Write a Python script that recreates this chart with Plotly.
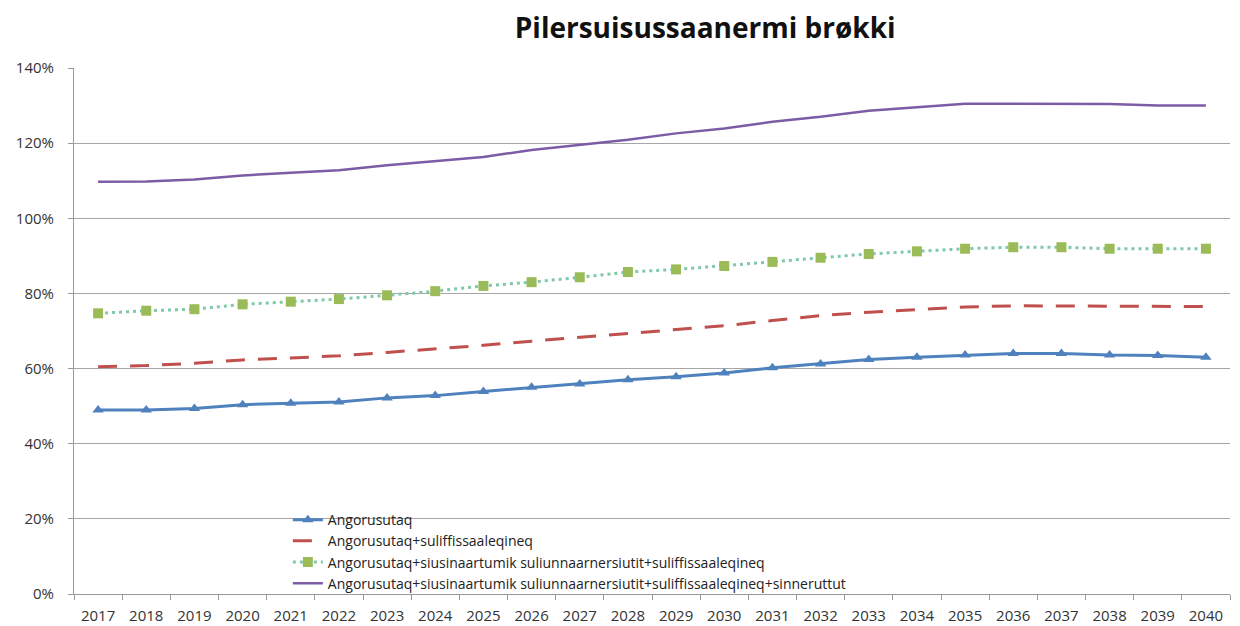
import plotly.graph_objects as go

years = [str(y) for y in range(2017, 2041)]

angorusutaq = [49.0, 49.0, 49.4, 50.4, 50.8, 51.1, 52.2, 52.8, 53.9, 55.0, 55.9, 57.0,
               57.8, 58.8, 60.2, 61.2, 62.4, 63.0, 63.6, 64.0, 64.0, 63.6, 63.5, 63.0]
suliffissaaleqineq = [60.5, 60.8, 61.4, 62.3, 62.8, 63.4, 64.3, 65.2, 66.2, 67.3, 68.3, 69.3,
                      70.4, 71.4, 72.8, 74.1, 75.0, 75.7, 76.4, 76.7, 76.7, 76.7, 76.5, 76.5]
suliunnaarnersiutit = [74.7, 75.4, 75.8, 77.1, 77.8, 78.5, 79.5, 80.6, 82.0, 83.0, 84.3, 85.7,
                       86.4, 87.3, 88.4, 89.5, 90.5, 91.2, 91.9, 92.3, 92.3, 91.9, 91.9, 91.9]
sinneruttut = [109.7, 109.8, 110.3, 111.4, 112.1, 112.8, 114.1, 115.1, 116.3, 118.2, 119.6, 120.9,
               122.6, 123.9, 125.7, 127.0, 128.6, 129.5, 130.5, 130.5, 130.5, 130.4, 130.0, 130.0]

names = [
    "Angorusutaq",
    "Angorusutaq+suliffissaaleqineq",
    "Angorusutaq+siusinaartumik suliunnaarnersiutit+suliffissaaleqineq",
    "Angorusutaq+siusinaartumik suliunnaarnersiutit+suliffissaaleqineq+sinneruttut",
]

fig = go.Figure()
fig.add_trace(go.Scatter(
    x=years, y=[v / 100 for v in angorusutaq], name=names[0], mode="lines+markers",
    line=dict(color="#4F81BD", width=3),
    marker=dict(symbol="triangle-up", size=10, color="#4F81BD"),
))
fig.add_trace(go.Scatter(
    x=years, y=[v / 100 for v in suliffissaaleqineq], name=names[1], mode="lines",
    line=dict(color="#C0504D", width=3, dash="19px,13px"),
))
fig.add_trace(go.Scatter(
    x=years, y=[v / 100 for v in suliunnaarnersiutit], name=names[2], mode="lines+markers",
    line=dict(color="#7FC9A8", width=3, dash="3px,4px"),
    marker=dict(symbol="square", size=10, color="#9BBB59"),
))
fig.add_trace(go.Scatter(
    x=years, y=[v / 100 for v in sinneruttut], name=names[3], mode="lines",
    line=dict(color="#7B5CA5", width=2.5),
))

fig.update_layout(
    width=1232, height=618,
    paper_bgcolor="white", plot_bgcolor="white",
    margin=dict(l=66, r=10, t=60, b=32),
    font=dict(family="'Open Sans', sans-serif", size=14, color="#333333"),
    title=dict(text="<b>Pilersuisussaanermi brøkki</b>", x=0.546, xref="paper", xanchor="center",
               yref="container", y=0.968, yanchor="middle", font=dict(size=28, color="#111111")),
    showlegend=True,
    legend=dict(x=0.185, y=0.171, xanchor="left", yanchor="top",
                bgcolor="rgba(0,0,0,0)", font=dict(size=14, color="#222222"),
                tracegroupgap=0),
    xaxis=dict(type="category", range=[-0.5, 23.5], tickson="boundaries", ticks="outside", ticklen=5,
               tickcolor="#999999", showline=True, linecolor="#999999", linewidth=1,
               showgrid=False, automargin=False, ticklabelstandoff=8,
               tickfont=dict(size=15, color="#333333")),
    yaxis=dict(range=[0, 1.4], dtick=0.2, tickformat=".0%", ticks="outside", ticklen=5,
               tickcolor="#999999", showline=True, linecolor="#999999", linewidth=1,
               gridcolor="#A6A6A6", gridwidth=1, zeroline=False, automargin=False,
               ticklabelstandoff=11, tickfont=dict(size=15, color="#333333")),
)

fig.write_html("out.html")
